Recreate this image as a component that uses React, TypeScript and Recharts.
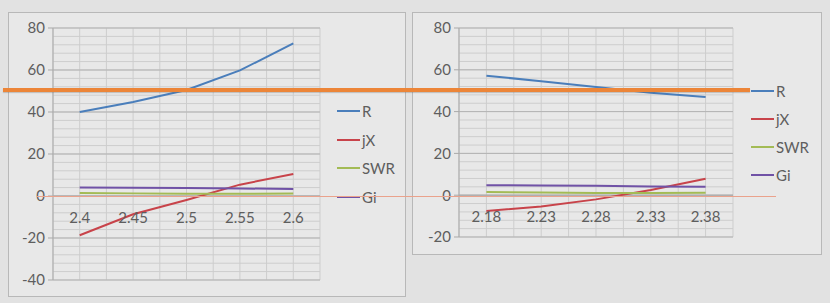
import React from 'react';
import { LineChart, Line, XAxis, YAxis, CartesianGrid, Legend, ReferenceLine } from 'recharts';

const leftCats = ['2.4', '2.45', '2.5', '2.55', '2.6'];
const leftR = [40, 44.8, 50.5, 59.8, 72.7];
const leftJX = [-18.7, -8.7, -1.9, 5.4, 10.5];
const leftSWR = [1.4, 1.25, 1.1, 1.1, 1.2];
const leftGi = [4.0, 3.9, 3.8, 3.6, 3.3];

const rightCats = ['2.18', '2.23', '2.28', '2.33', '2.38'];
const rightR = [57.2, 54.5, 51.8, 49.0, 47.0];
const rightJX = [-7.6, -5.4, -2.0, 2.5, 7.9];
const rightSWR = [1.5, 1.3, 1.1, 1.1, 1.2];
const rightGi = [4.8, 4.7, 4.5, 4.2, 4.0];

const seriesNames = ['R', 'jX', 'SWR', 'Gi'];
const leftMajorTicks = [-40, -20, 0, 20, 40, 60, 80];
const rightMajorTicks = [-20, 0, 20, 40, 60, 80];

const FONT = 'Lato, "Open Sans", sans-serif';
const TEXT = '#5e5e5e';
const COLORS: Record<string, string> = { R: '#4a7ebb', jX: '#c8434a', SWR: '#a3bb55', Gi: '#7052a6' };

function buildData(r: number[], jx: number[], swr: number[], gi: number[]) {
  return r.map((_, i) => ({ i, R: r[i], jX: jx[i], SWR: swr[i], Gi: gi[i] }));
}

function range(a: number, b: number, s: number) {
  const out: number[] = [];
  for (let v = a; v <= b + 1e-9; v += s) out.push(Math.round(v * 100) / 100);
  return out;
}

type PanelProps = {
  cats: string[];
  data: any[];
  yMin: number;
  yMax: number;
  majorTicks: number[];
  width: number;
  height: number;
  margin: { top: number; right: number; bottom: number; left: number };
  yAxisWidth: number;
  labelGap: number;
  legendLeft: number;
  legendTop: number;
  legendStep: number;
};

function Panel(p: PanelProps) {
  const plotH = p.height - p.margin.top - p.margin.bottom;
  const zeroUp = (plotH * (0 - p.yMin)) / (p.yMax - p.yMin);
  const xGridTicks = range(-0.5, p.cats.length - 0.5, 0.5);
  const minorTicks = range(p.yMin, p.yMax, 4);

  const XTick = (props: any) => {
    const { x, y, payload } = props;
    const v = payload.value;
    if (!Number.isInteger(v)) return null;
    return (
      <text x={x} y={y - zeroUp + p.labelGap} dy="0.71em" textAnchor="middle" fill={TEXT} fontSize={15} fontFamily={FONT}>
        {p.cats[v]}
      </text>
    );
  };

  const YTick = (props: any) => {
    const { x, y, payload } = props;
    return (
      <g>
        <line x1={x - 5} x2={x} y1={y} y2={y} stroke="#a9a9a9" />
        <text x={x - 8} y={y} dy="0.355em" textAnchor="end" fill={TEXT} fontSize={15} fontFamily={FONT}>
          {payload.value}
        </text>
      </g>
    );
  };

  const LegendContent = (props: any) => {
    const items = [...(props.payload || [])].sort(
      (a: any, b: any) => seriesNames.indexOf(a.value) - seriesNames.indexOf(b.value)
    );
    return (
      <div style={{ position: 'relative', width: 60, height: 120 }}>
        {items.map((it: any, k: number) => (
          <div key={k} style={{ position: 'absolute', left: 0, top: k * p.legendStep, display: 'flex', alignItems: 'center', height: 20, whiteSpace: 'nowrap' }}>
            <div style={{ width: 23, height: 2, background: it.color }} />
            <span style={{ marginLeft: 2, fontFamily: FONT, fontSize: 15, color: TEXT }}>{it.value}</span>
          </div>
        ))}
      </div>
    );
  };

  const minorGen = (args: any) => {
    const scale = args && args.yAxis && args.yAxis.scale;
    const off = (args && args.offset) || { top: p.margin.top, height: plotH };
    return minorTicks.map((t) => {
      if (typeof scale === 'function') return scale(t);
      if (scale && typeof scale.map === 'function') return scale.map(t);
      return off.top + (off.height * (p.yMax - t)) / (p.yMax - p.yMin);
    });
  };

  return (
    <LineChart width={p.width} height={p.height} data={p.data} margin={p.margin}>
      <XAxis
        dataKey="i"
        type="number"
        domain={[-0.5, p.cats.length - 0.5]}
        ticks={xGridTicks}
        allowDataOverflow
        axisLine={false}
        tickLine={false}
        tickSize={0}
        tickMargin={0}
        height={1}
        tick={XTick}
        interval={0}
      />
      <YAxis
        type="number"
        domain={[p.yMin, p.yMax]}
        ticks={p.majorTicks}
        allowDataOverflow
        width={p.yAxisWidth}
        axisLine={{ stroke: '#a9a9a9' }}
        tickLine={false}
        tickSize={0}
        tickMargin={0}
        tick={YTick}
        interval={0}
      />
      <CartesianGrid horizontalCoordinatesGenerator={minorGen} stroke="#cdcdcd" strokeWidth={1} />
      <CartesianGrid vertical={false} stroke="#b3b3b3" strokeWidth={1} />
      <ReferenceLine y={0} stroke="#a9a9a9" />
      {seriesNames.map((n) => (
        <Line key={n} type="linear" dataKey={n} name={n} stroke={COLORS[n]} strokeWidth={2} dot={false} isAnimationActive={false} />
      ))}
      <Legend
        layout="vertical"
        align="center"
        verticalAlign="middle"
        itemSorter={null as any}
        content={LegendContent}
        wrapperStyle={{ position: 'absolute', left: p.legendLeft, top: p.legendTop, width: 60, height: 120, margin: 0 }}
      />
    </LineChart>
  );
}

export default function App() {
  const leftData = buildData(leftR, leftJX, leftSWR, leftGi);
  const rightData = buildData(rightR, rightJX, rightSWR, rightGi);
  return (
    <div style={{ position: 'fixed', left: 0, top: 0, width: 830, height: 303, background: '#e2e2e2', overflow: 'hidden' }}>
      <div style={{ position: 'absolute', left: 8, top: 12, width: 398, height: 285, boxSizing: 'border-box', border: '1px solid #b8b8b8', background: '#e8e8e8' }}>
        <div style={{ position: 'absolute', left: -1, top: -1 }}>
          <Panel
            cats={leftCats}
            data={leftData}
            yMin={-40}
            yMax={80}
            majorTicks={leftMajorTicks}
            width={398}
            height={285}
            margin={{ top: 16, right: 86, bottom: 16, left: 0 }}
            yAxisWidth={45}
            labelGap={17}
            legendLeft={329}
            legendTop={89}
            legendStep={28.5}
          />
        </div>
      </div>
      <div style={{ position: 'absolute', left: 412, top: 12, width: 410, height: 243, boxSizing: 'border-box', border: '1px solid #b8b8b8', background: '#e8e8e8' }}>
        <div style={{ position: 'absolute', left: -1, top: -1 }}>
          <Panel
            cats={rightCats}
            data={rightData}
            yMin={-20}
            yMax={80}
            majorTicks={rightMajorTicks}
            width={410}
            height={243}
            margin={{ top: 16, right: 89, bottom: 17, left: 0 }}
            yAxisWidth={47}
            labelGap={16}
            legendLeft={339}
            legendTop={69}
            legendStep={28}
          />
        </div>
      </div>
      <div style={{ position: 'absolute', left: 37, top: 196, width: 739, height: 1, background: '#eaa28c' }} />
      <div style={{ position: 'absolute', left: 3, top: 88, width: 747, height: 4, background: '#ec8538', boxShadow: '0 1px 1px rgba(120,110,100,0.35)' }} />
    </div>
  );
}
